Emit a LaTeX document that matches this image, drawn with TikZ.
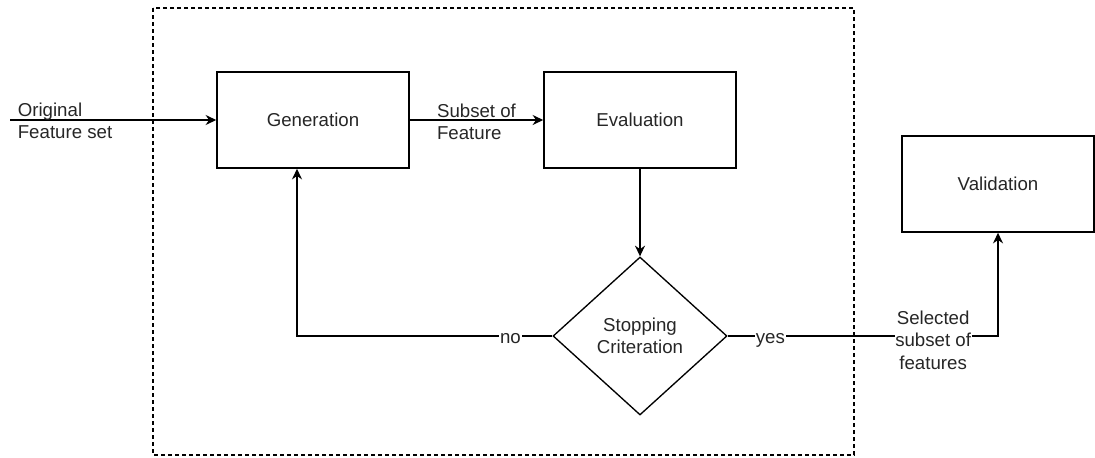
\documentclass[tikz,border=0pt]{standalone}
\usepackage{fontspec}
\setmainfont{Liberation Sans}
\usetikzlibrary{shapes.geometric,arrows.meta}
\tikzset{
  procbox/.style={draw, line width=1.1pt, minimum width=144pt, minimum height=72pt, inner sep=0pt},
  decision/.style={draw, diamond, line width=1pt, minimum width=130.5pt, minimum height=118.5pt, inner sep=0pt, align=center},
  arr/.style={line width=1.1pt, -{Stealth[length=8pt, width=7.5pt]}},
  lbl/.style={fill=white, inner sep=0.5pt}
}
\def\procnode(#1,#2,#3,#4){
  \node[procbox] (#1) at (#2,#3) {#4};
}

\begin{document}
\begin{tikzpicture}[x=0.75pt, y=-0.75pt, font=\fontsize{14}{16.8}\selectfont, text=black!85]
\useasboundingbox (0,0) rectangle (1095,457);
% dashed frame around the selection loop
\draw[line width=0.9pt, dash pattern=on 3pt off 2.25pt] (153,8) rectangle (854,455);
\procnode(gen,313,120,Generation)
\procnode(eval,640,120,Evaluation)
\procnode(valid,998,184,Validation)
\node[decision] (stop) at (640,336) {Stopping\\Criteration};
\coordinate (in) at (10,120);
\draw[arr] (in) -- node[pos=0, anchor=west, xshift=2pt, yshift=-0.8pt, align=left] {Original\\Feature set} (gen);
\draw[arr] (gen) -- node[align=left, yshift=-1.5pt] {Subset of\\Feature} (eval);
\draw[arr] (eval) -- (stop);
\draw[arr] (stop) -| node[lbl, pos=0.082, yshift=-2pt] {no} ([xshift=-12pt]gen.south);
\draw[arr] (stop) -| node[lbl, pos=0.079, yshift=-3pt] {yes}
  node[lbl, pos=0.38, yshift=-3pt, align=center] {Selected\\subset of\\features} (valid);
\end{tikzpicture}
\end{document}
